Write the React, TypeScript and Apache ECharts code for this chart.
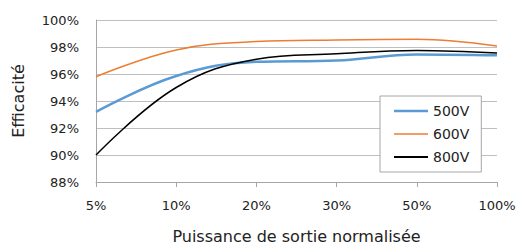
import React, { useEffect, useRef } from "react";
import * as echarts from "echarts";

const categories = ["5%", "10%", "20%", "30%", "50%", "100%"];
const v500 = [93.2, 95.85, 96.9, 97.0, 97.45, 97.38];
const v600 = [95.8, 97.78, 98.4, 98.52, 98.57, 98.07];
const v800 = [90.0, 95.0, 97.1, 97.5, 97.75, 97.55];
const seriesNames = ["500V", "600V", "800V"];

export default function App() {
  const ref = useRef<HTMLDivElement>(null);
  useEffect(() => {
    if (!ref.current) return;
    const chart = echarts.init(ref.current, null, { renderer: "svg" });
    const font = "'DejaVu Sans', sans-serif";
    chart.setOption({
      animation: false,
      textStyle: { fontFamily: font },
      grid: { left: 96, right: 21, top: 20, bottom: 63, outerBoundsMode: "none", containLabel: false },
      legend: {
        orient: "vertical",
        left: 380,
        top: 96,
        padding: [8, 12, 8, 14],
        itemWidth: 34,
        itemHeight: 14,
        itemGap: 9,
        symbolKeepAspect: true,
        backgroundColor: "#fff",
        borderColor: "#a6a6a6",
        borderWidth: 1,
        borderRadius: 0,
        textStyle: { fontFamily: font, fontSize: 14, color: "#222" },
        data: [
          { name: seriesNames[0], icon: "path://M0,0H34V2.5H0Z" },
          { name: seriesNames[1], icon: "path://M0,0H34V1.5H0Z" },
          { name: seriesNames[2], icon: "path://M0,0H34V2H0Z" },
        ],
      },
      xAxis: {
        type: "category",
        data: categories,
        boundaryGap: false,
        name: "Puissance de sortie normalisée",
        nameLocation: "middle",
        nameGap: 46,
        nameTextStyle: { fontFamily: font, fontSize: 16, color: "#222" },
        axisLine: { lineStyle: { color: "#a6a6a6", width: 1 } },
        axisTick: { show: true, length: 5, lineStyle: { color: "#a6a6a6" } },
        axisLabel: { fontFamily: font, fontSize: 13, color: "#222", margin: 17 },
        splitLine: { show: false },
      },
      yAxis: {
        type: "value",
        min: 88,
        max: 100,
        interval: 2,
        name: "Efficacité",
        nameLocation: "middle",
        nameGap: 70,
        nameTextStyle: { fontFamily: font, fontSize: 16, color: "#222" },
        axisLine: { show: true, lineStyle: { color: "#a6a6a6", width: 1 } },
        axisTick: { show: false },
        axisLabel: {
          fontFamily: font,
          fontSize: 13,
          color: "#222",
          margin: 17,
          formatter: (v: number) => v + "%",
        },
        splitLine: { lineStyle: { color: "#bfbfbf", width: 1 } },
      },
      series: [
        {
          name: "500V",
          type: "line",
          data: v500,
          smooth: 0.4,
          symbol: "none",
          lineStyle: { color: "#5b9bd5", width: 2.5 },
          itemStyle: { color: "#5b9bd5" },
          z: 3,
        },
        {
          name: "600V",
          type: "line",
          data: v600,
          smooth: 0.4,
          symbol: "none",
          lineStyle: { color: "#ed7d31", width: 1.5 },
          itemStyle: { color: "#ed7d31" },
          z: 2,
        },
        {
          name: "800V",
          type: "line",
          data: v800,
          smooth: 0.4,
          symbol: "none",
          lineStyle: { color: "#000", width: 1.5 },
          itemStyle: { color: "#000" },
          z: 4,
        },
      ],
    });
    return () => chart.dispose();
  }, []);
  return <div ref={ref} style={{ width: 518, height: 245, position: "absolute", left: 0, top: 0 }} />;
}
